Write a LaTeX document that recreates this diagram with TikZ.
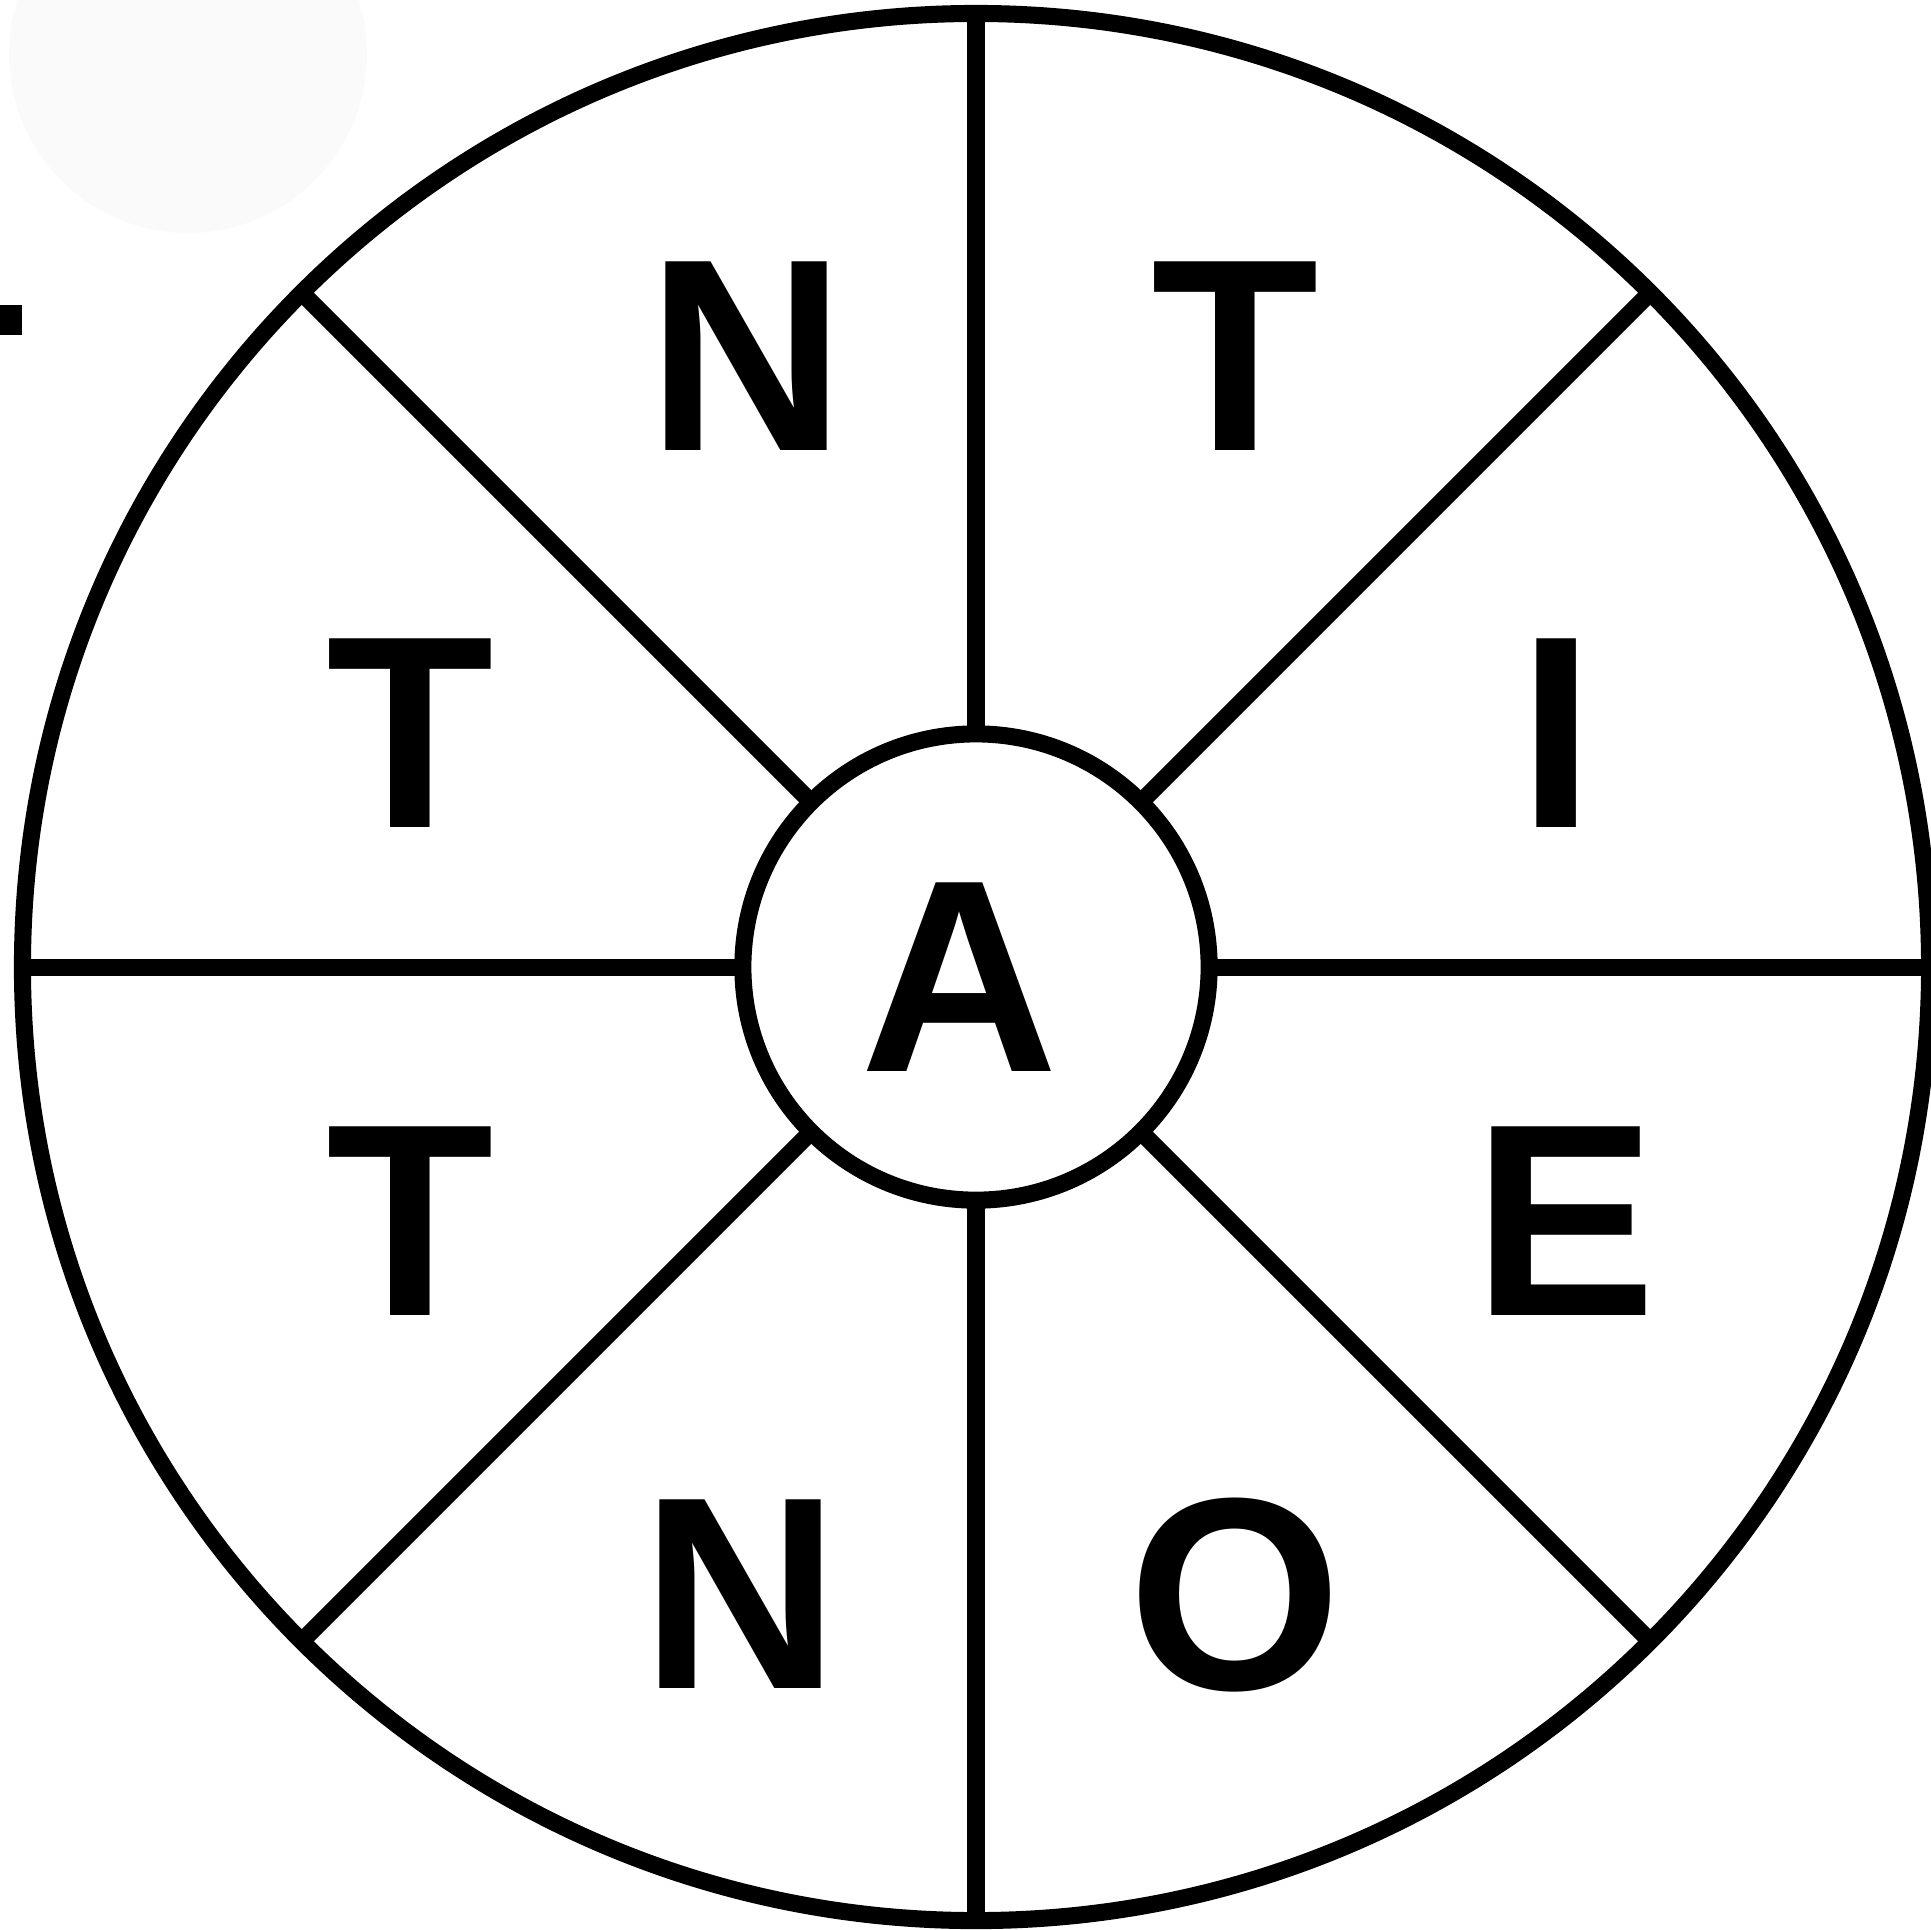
\documentclass[tikz,border=0pt]{standalone}
\usepackage{fontspec}
\setmainfont{Liberation Sans}

\tikzset{
  ring/.style={draw, circle, inner sep=0pt, outer sep=0pt},
  letter/.style={inner sep=0pt, font=\fontsize{78}{82}\selectfont\bfseries}
}

\begin{document}
\begin{tikzpicture}[x=0.01cm, y=-0.01cm, line width=4.85pt]
  \useasboundingbox (0,0) rectangle (1931,1929);

  % --- traces en haut a gauche ---
  \fill[black!2] (188,54) circle (179);
  \fill (0,305) rectangle (22,335);

  % --- la roue ---
  \node[ring, minimum size=19.06cm] (rim) at (976,967) {};
  \node[ring, minimum size=4.66cm] (hub) at (976,967) {};
  \foreach \a in {0,45,...,315}
    \draw (hub.\a) -- (rim.\a);

  % --- les lettres ---
  \node[letter] (a)  at (960,977)   {A};
  \node[letter] (n1) at (747,356)   {N};
  \node[letter] (t1) at (1235,356)  {T};
  \node[letter] (t2) at (410,733)   {T};
  \node[letter] (i)  at (1557,733)  {I};
  \node[letter] (t3) at (410,1221)  {T};
  \node[letter] (e)  at (1565,1221) {E};
  \node[letter] (n2) at (741,1594)  {N};
  \node[letter] (o)  at (1235,1595) {O};
\end{tikzpicture}
\end{document}
